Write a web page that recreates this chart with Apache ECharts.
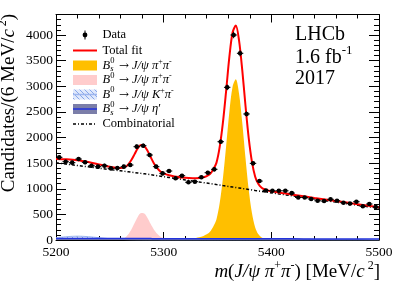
<!DOCTYPE html>
<html><head><meta charset="utf-8">
<script src="https://cdn.jsdelivr.net/npm/echarts@6/dist/echarts.min.js"></script>
<style>html,body{margin:0;padding:0;background:#fff}#c{width:399px;height:287px}</style>
</head><body><div id="c"></div>
<script>
// ---------------- data ----------------
const binCenters = [5203,5209,5215,5221,5227,5233,5239,5245,5251,5257,5263,5269,5275,5281,5287,5293,5299,5305,5311,5317,5323,5329,5335,5341,5347,5353,5359,5365,5371,5377,5383,5389,5395,5401,5407,5413,5419,5425,5431,5437,5443,5449,5455,5461,5467,5473,5479,5485,5491,5497];
const dataCounts = [1613,1528,1509,1580,1516,1450,1431,1450,1398,1405,1431,1463,1821,1840,1658,1431,1300,1346,1204,1255,1126,1138,1223,1313,1379,1918,2979,4000,3643,2459,1496,1150,965,960,960,960,915,830,830,800,765,760,794,767,728,710,747,660,702,645];
const dataErrors = [40,39,39,40,39,38,38,38,37,37,38,38,43,43,41,38,36,37,35,35,34,34,35,36,37,44,55,63,60,50,39,34,31,31,31,31,30,29,29,28,28,28,28,28,27,27,27,26,26,25];
const binHalfWidth = 3;

const fitMass = [5200,5210,5220,5230,5240,5250,5256,5260,5264,5267,5270,5273,5276,5279,5282,5285,5288,5291,5294,5297,5300,5305,5310,5320,5327,5333,5337,5340,5343,5346,5349,5352,5355,5358,5361,5364,5367,5370,5373,5376,5379,5382,5385,5388,5391,5394,5397,5401,5410,5420,5440,5460,5480,5500];
const totalFit = [1580,1574,1557,1521,1475,1428,1407,1406,1421,1471,1560,1676,1792,1855,1836,1743,1614,1492,1402,1337,1299,1262,1241,1213,1206,1212,1224,1245,1285,1374,1505,1811,2286,2906,3567,4048,4183,3896,3315,2619,1989,1525,1236,1091,1020,986,966,949,917,884,821,760,699,638];
const bsSignal = [0,0,0,0,0,0,0,0,0,0,0,0,0,0,0,0,0,0,0,0,2,4,6,15,30,55,80,110,160,258,400,715,1200,1829,2500,2990,3135,2857,2286,1600,980,525,246,110,50,25,15,10,5,2,0,0,0,0];
const b0Signal = [0,0,0,0,0,0,4,17,45,105,205,330,455,525,515,430,310,200,120,65,35,12,4,0,0,0,0,0,0,0,0,0,0,0,0,0,0,0,0,0,0,0,0,0,0,0,0,0,0,0,0,0,0,0];
const b0KpiBkg = [45,65,75,65,45,25,16,12,9,7,5,4,3,3,2,2,1,1,1,0,0,0,0,0,0,0,0,0,0,0,0,0,0,0,0,0,0,0,0,0,0,0,0,0,0,0,0,0,0,0,0,0,0,0];
const bsEtaBkg = [30,30,29,29,29,28,28,28,28,28,27,27,27,27,27,27,27,26,26,26,26,26,26,25,25,25,25,25,25,25,24,24,24,24,24,24,24,24,24,23,23,23,23,23,22,22,22,22,22,22,21,20,19,18];
const combBkg = [1505,1479,1453,1427,1401,1375,1359,1349,1339,1331,1323,1315,1307,1300,1292,1284,1276,1265,1255,1246,1236,1220,1205,1173,1151,1132,1119,1110,1100,1091,1081,1072,1062,1053,1043,1034,1024,1015,1005,996,986,977,967,958,948,939,929,917,890,860,800,740,680,620];

const xRange = [5200, 5500], xStep = 100;
const yRange = [0, 4400], yStep = 500, yMinorStep = 100;

// ---------------- chart ----------------
const F = '"Liberation Serif", "Times New Roman", serif';
const pair = arr => fitMass.map((m, i) => [m, arr[i]]);

const pat = document.createElement('canvas');
pat.width = 5; pat.height = 5;
(function(){
  const g = pat.getContext('2d');
  g.fillStyle = '#dfe8fb'; g.fillRect(0,0,5,5);
  g.strokeStyle = '#86a6ea'; g.lineWidth = 1;
  g.beginPath();
  g.moveTo(0,0); g.lineTo(5,5);
  g.moveTo(-1,4); g.lineTo(1,6);
  g.moveTo(4,-1); g.lineTo(6,1);
  g.stroke();
})();
const hatch = {image: pat, repeat: 'repeat'};

function rich(size) {
  return {
    r: {fontFamily: F, fontSize: size, lineHeight: Math.round(size*1.3), fill: '#000'},
    i: {fontFamily: F, fontSize: size, fontStyle: 'italic', lineHeight: Math.round(size*1.3), fill: '#000'},
    a: {fontFamily: '"DejaVu Serif", serif', fontSize: size*0.95, lineHeight: Math.round(size*1.3), fill: '#000'},
    sup: {fontFamily: F, fontSize: Math.round(size*0.65), lineHeight: Math.round(size*0.7), verticalAlign: 'top', fill: '#000'}
  };
}
const RL = rich(12.5), RB = rich(20), RA = rich(19);

const legendRowY = [35, 50.5, 65.5, 80, 94.5, 109, 124];
const ix0 = 73, ix1 = 97, tx = 102.5;
const graphic = [];
function txt(x, y, text, r, extra) {
  graphic.push(Object.assign({type: 'text', x: x, y: y, z: 100,
    style: {text: text, rich: r, verticalAlign: 'middle', align: 'left', fill: '#000', font: '12.5px ' + F}}, extra || {}));
}
function bsym(row, sub) {
  const y = legendRowY[row];
  graphic.push({type:'text', x: tx, y: y, z:100, style:{text:'B', font:'italic 12.5px ' + F, fill:'#000', verticalAlign:'middle'}});
  graphic.push({type:'text', x: tx+7.8, y: y-4.3, z:100, style:{text:'0', font:'8.5px ' + F, fill:'#000', verticalAlign:'middle'}});
  if (sub) graphic.push({type:'text', x: tx+7.8, y: y+3.6, z:100, style:{text:'s', font:'italic 8.5px ' + F, fill:'#000', verticalAlign:'middle'}});
}
// legend icons
graphic.push({type:'line', z:100, shape:{x1:85,y1:legendRowY[0]-4.5,x2:85,y2:legendRowY[0]+4.5}, style:{stroke:'#000',lineWidth:1}});
graphic.push({type:'circle', z:100, shape:{cx:85,cy:legendRowY[0],r:2.4}, style:{fill:'#000'}});
graphic.push({type:'line', z:100, shape:{x1:ix0,y1:legendRowY[1],x2:ix1,y2:legendRowY[1]}, style:{stroke:'#ff0000',lineWidth:2}});
graphic.push({type:'rect', z:100, shape:{x:ix0,y:legendRowY[2]-5,width:ix1-ix0,height:10}, style:{fill:'#ffbf00'}});
graphic.push({type:'rect', z:100, shape:{x:ix0,y:legendRowY[3]-5,width:ix1-ix0,height:10}, style:{fill:'#ffcccc'}});
graphic.push({type:'rect', z:100, shape:{x:ix0,y:legendRowY[4]-5,width:ix1-ix0,height:10}, style:{fill:hatch}});
graphic.push({type:'line', z:100, shape:{x1:ix0,y1:legendRowY[4],x2:ix1,y2:legendRowY[4]}, style:{stroke:'#9db6ee',lineWidth:1.5}});
graphic.push({type:'rect', z:100, shape:{x:ix0,y:legendRowY[5]-5,width:ix1-ix0,height:10}, style:{fill:'#7b7ea9'}});
graphic.push({type:'line', z:100, shape:{x1:ix0,y1:legendRowY[5],x2:ix1,y2:legendRowY[5]}, style:{stroke:'#2233dd',lineWidth:1.5}});
graphic.push({type:'line', z:100, shape:{x1:ix0,y1:legendRowY[6],x2:ix1,y2:legendRowY[6]}, style:{stroke:'#000',lineWidth:1.5,lineDash:[3,2,1,2]}});
// legend texts
txt(tx, legendRowY[0], '{r|Data}', RL);
txt(tx, legendRowY[1], '{r|Total fit}', RL);
bsym(2, true);  txt(tx+16.5, legendRowY[2], '{a|→}{r| }{i|J/ψ π}{sup|+}{i|π}{sup|-}', RL);
bsym(3, false); txt(tx+16.5, legendRowY[3], '{a|→}{r| }{i|J/ψ π}{sup|+}{i|π}{sup|-}', RL);
bsym(4, false); txt(tx+16.5, legendRowY[4], '{a|→}{r| }{i|J/ψ K}{sup|+}{i|π}{sup|-}', RL);
bsym(5, true);  txt(tx+16.5, legendRowY[5], '{a|→}{r| }{i|J/ψ η}{r|′}', RL);
txt(tx, legendRowY[6], '{r|Combinatorial}', RL);
// LHCb label
txt(295, 35, '{r|LHCb}', RB);
txt(295, 57.5, '{r|1.6 fb}{sup|-1}', RB);
txt(295, 79, '{r|2017}', RB);
// axis titles
graphic.push({type:'text', x:380, y:272, z:100, style:{text:'{i|m}{r|(}{i|J/ψ π}{sup|+}{i|π}{sup|-}{r|) [MeV/}{i|c}{sup| 2}{r|]}', rich:RA, align:'right', verticalAlign:'middle'}});
graphic.push({type:'text', x:9, y:103, rotation:Math.PI/2, z:100, style:{text:'{r|Candidates/(6 MeV/}{i|c}{sup| 2}{r|)}', rich:RA, align:'center', verticalAlign:'middle'}});

const plain = v => String(v);
const blackLine = {show:true, onZero:false, lineStyle:{color:'#000', width:1}};
function xAx(pos, labels) {
  return {type:'value', min:xRange[0], max:xRange[1], interval:xStep, position:pos,
    axisLine: blackLine,
    axisTick:{show:true, inside:true, length:8, lineStyle:{color:'#000', width:1}},
    minorTick:{show:true, splitNumber:5, length:4, lineStyle:{color:'#000', width:1}},
    axisLabel:{show:labels, color:'#000', fontFamily:F, fontSize:13.5, margin:5, formatter:plain},
    splitLine:{show:false}, minorSplitLine:{show:false}};
}
function yAx(pos, labels, step, len, line) {
  return {type:'value', min:yRange[0], max:yRange[1], interval:step, position:pos,
    axisLine: line ? blackLine : {show:false},
    axisTick:{show:true, inside:true, length:len, lineStyle:{color:'#000', width:1}},
    axisLabel:{show:labels, color:'#000', fontFamily:F, fontSize:13.5, margin:3, showMaxLabel:false, formatter:plain},
    splitLine:{show:false}};
}

const option = {
  animation: false,
  backgroundColor: '#fff',
  grid: {left:56, right:20, top:14.5, bottom:47},
  xAxis: [xAx('bottom', true), xAx('top', false)],
  yAxis: [yAx('left', true, yStep, 10, true), yAx('right', false, yStep, 10, true),
          yAx('left', false, yMinorStep, 5, false), yAx('right', false, yMinorStep, 5, false)],
  graphic: graphic,
  series: [
    {name:'Bs signal', type:'line', data:pair(bsSignal), showSymbol:false, symbol:'none', smooth:0.3,
     lineStyle:{width:0, color:'#ffbf00'}, areaStyle:{color:'#ffbf00', opacity:1}, z:2},
    {name:'B0 signal', type:'line', data:pair(b0Signal), showSymbol:false, symbol:'none', smooth:0.3,
     lineStyle:{width:0, color:'#ffcccc'}, areaStyle:{color:'#ffcccc', opacity:1}, z:2},
    {name:'B0 Kpi', type:'line', data:pair(b0KpiBkg), showSymbol:false, symbol:'none', smooth:0.3,
     lineStyle:{width:1, color:'#9db6ee'}, areaStyle:{color:hatch, opacity:1}, z:3},
    {name:'Bs eta', type:'line', data:pair(bsEtaBkg), showSymbol:false, symbol:'none', smooth:0.3,
     lineStyle:{width:1.5, color:'#2233dd'}, areaStyle:{color:'#7b7ea9', opacity:1}, z:4},
    {name:'Combinatorial', type:'line', data:pair(combBkg), showSymbol:false, symbol:'none',
     lineStyle:{width:1.5, color:'#000', type:[3,2,1,2]}, z:5},
    {name:'Total fit', type:'line', data:pair(totalFit), showSymbol:false, symbol:'none', smooth:0.3,
     lineStyle:{width:2, color:'#ff0000'}, z:6},
    {name:'Data', type:'custom', z:7, clip:true,
     data: binCenters.map((m, i) => [m, dataCounts[i], dataErrors[i]]),
     encode:{x:0, y:1},
     renderItem: function(params, api) {
       const x = api.value(0), y = api.value(1), e = api.value(2);
       const c = api.coord([x, y]);
       const t = api.coord([x, y + e]), b = api.coord([x, y - e]);
       const l = api.coord([x - binHalfWidth, y]), r = api.coord([x + binHalfWidth, y]);
       return {type:'group', children:[
         {type:'line', shape:{x1:c[0], y1:t[1], x2:c[0], y2:b[1]}, style:{stroke:'#000', lineWidth:1}},
         {type:'line', shape:{x1:l[0], y1:c[1], x2:r[0], y2:c[1]}, style:{stroke:'#000', lineWidth:1}},
         {type:'circle', shape:{cx:c[0], cy:c[1], r:2.3}, style:{fill:'#000'}}
       ]};
     }}
  ]
};
const chart = echarts.init(document.getElementById('c'), null, {renderer:'canvas'});
chart.setOption(option);
</script></body></html>
